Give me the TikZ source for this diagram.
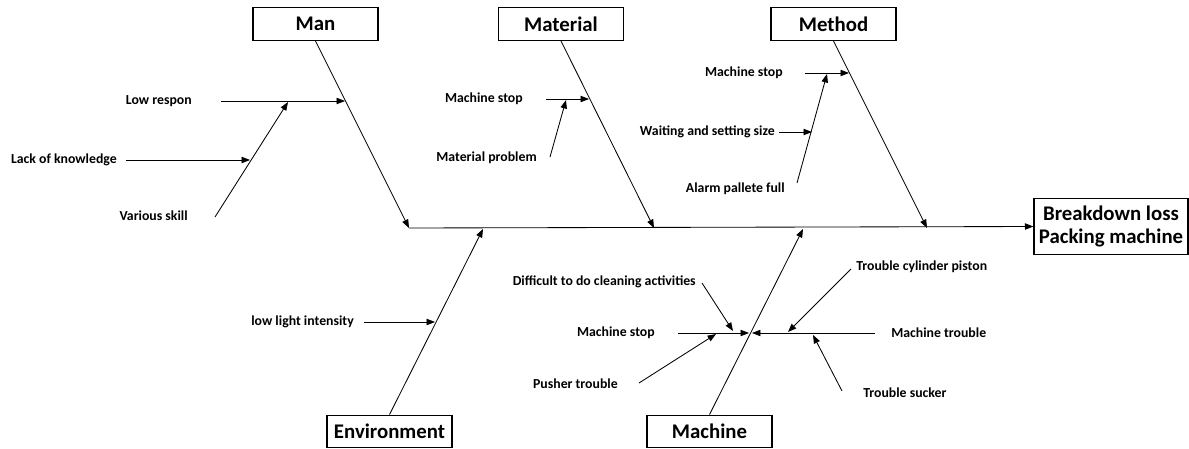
\documentclass[tikz,border=0pt]{standalone}
\usepackage{fontspec}
\setmainfont{Carlito}
\usetikzlibrary{arrows.meta}
\tikzset{
	cat/.style={draw,thick,minimum width=3.125cm,minimum height=0.82cm,inner sep=0pt,font=\fontsize{14.8}{17}\selectfont\bfseries},
	eff/.style={draw,thick,minimum width=3.85cm,minimum height=1.42cm,inner sep=0pt,align=center,font=\fontsize{14.8}{17}\selectfont\bfseries},
	lbl/.style={inner sep=0pt,font=\fontsize{9.8}{11}\selectfont\bfseries},
	arr/.style={-{Triangle[length=6pt,width=4.5pt]},semithick}
}
\begin{document}
\begin{tikzpicture}[x=0.025cm,y=-0.025cm]
	\useasboundingbox (0,0) rectangle (1189,448);
	% categories and effect
	\node [cat] (man) at (315.5,24) {Man};
	\node [cat] (mat) at (561,24) {Material};
	\node [cat] (meth) at (833.5,24) {Method};
	\node [cat] (env) at (389.5,431.5) {Environment};
	\node [cat] (mach) at (709.5,431.5) {Machine};
	\node [eff] (loss) at (1111,226.5) {Breakdown loss\\Packing machine};
	
	% spine
	\coordinate (s0) at (409,228);
	\draw [arr] (s0) -- (loss.west);
	
	% bones
	\coordinate (mantip) at (409,228);
	\coordinate (mattip) at (654,228);
	\coordinate (methtip) at (927,228);
	\coordinate (envtip) at (483,229);
	\coordinate (machtip) at (803,229);
	\draw [arr] (man.south) -- (mantip);
	\draw [arr] (mat.south) -- (mattip);
	\draw [arr] (meth.south) -- (methtip);
	\draw [arr] (env.north) -- (envtip);
	\draw [arr] (mach.north) -- (machtip);
	
	% Man
	\node [lbl,anchor=east] (low) at (192,101) {Low respon};
	\node [lbl,anchor=east] (lack) at (117,160) {Lack of knowledge};
	\node [lbl,anchor=east] (skill) at (188,216) {Various skill};
	\coordinate (low0) at (221,101);
	\coordinate (low1) at (345,101);
	\coordinate (lack0) at (126,160);
	\coordinate (lack1) at (250,160);
	\coordinate (skill0) at (215,217);
	\coordinate (skill1) at (288,102);
	\draw [arr] (low0) -- (low1);
	\draw [arr] (lack0) -- (lack1);
	\draw [arr] (skill0) -- (skill1);
	
	% Material
	\node [lbl,anchor=east] (stop1) at (523,99) {Machine stop};
	\node [lbl,anchor=east] (prob) at (537,158) {Material problem};
	\coordinate (stop10) at (546,99);
	\coordinate (stop11) at (589,99);
	\coordinate (prob0) at (550,157);
	\coordinate (prob1) at (566,100);
	\draw [arr] (stop10) -- (stop11);
	\draw [arr] (prob0) -- (prob1);
	
	% Method
	\node [lbl,anchor=east] (stop2) at (783,73) {Machine stop};
	\node [lbl,anchor=east] (wait) at (775,132) {Waiting and setting size};
	\node [lbl,anchor=east] (alarm) at (785,189) {Alarm pallete full};
	\coordinate (stop20) at (805,73);
	\coordinate (stop21) at (849,73);
	\coordinate (wait0) at (779,132);
	\coordinate (wait1) at (812,132);
	\coordinate (alarm0) at (797,183);
	\coordinate (alarm1) at (827,74);
	\draw [arr] (stop20) -- (stop21);
	\draw [arr] (wait0) -- (wait1);
	\draw [arr] (alarm0) -- (alarm1);
	
	% Environment
	\node [lbl,anchor=east] (light) at (354,322) {low light intensity};
	\coordinate (light0) at (364,322);
	\coordinate (light1) at (435,322);
	\draw [arr] (light0) -- (light1);
	
	% Machine
	\node [lbl,anchor=east] (stop3) at (655,333) {Machine stop};
	\node [lbl,anchor=west] (trbl) at (891,333) {Machine trouble};
	\node [lbl,anchor=east] (clean) at (696,282) {Difficult to do cleaning activities};
	\node [lbl,anchor=east] (push) at (618,384) {Pusher trouble};
	\node [lbl,anchor=west] (cyl) at (856,267) {Trouble cylinder piston};
	\node [lbl,anchor=west] (suck) at (863,393) {Trouble sucker};
	\coordinate (stop30) at (678,333);
	\coordinate (stop31) at (749,333);
	\coordinate (trbl0) at (875,333);
	\coordinate (trbl1) at (752,333);
	\coordinate (clean0) at (702,283);
	\coordinate (clean1) at (733,331);
	\coordinate (push0) at (639,383);
	\coordinate (push1) at (716,334);
	\coordinate (cyl0) at (851,269);
	\coordinate (cyl1) at (788,332);
	\coordinate (suck0) at (842,391);
	\coordinate (suck1) at (813,335);
	\draw [arr] (stop30) -- (stop31);
	\draw [arr] (trbl0) -- (trbl1);
	\draw [arr] (clean0) -- (clean1);
	\draw [arr] (push0) -- (push1);
	\draw [arr] (cyl0) -- (cyl1);
	\draw [arr] (suck0) -- (suck1);
\end{tikzpicture}
\end{document}
